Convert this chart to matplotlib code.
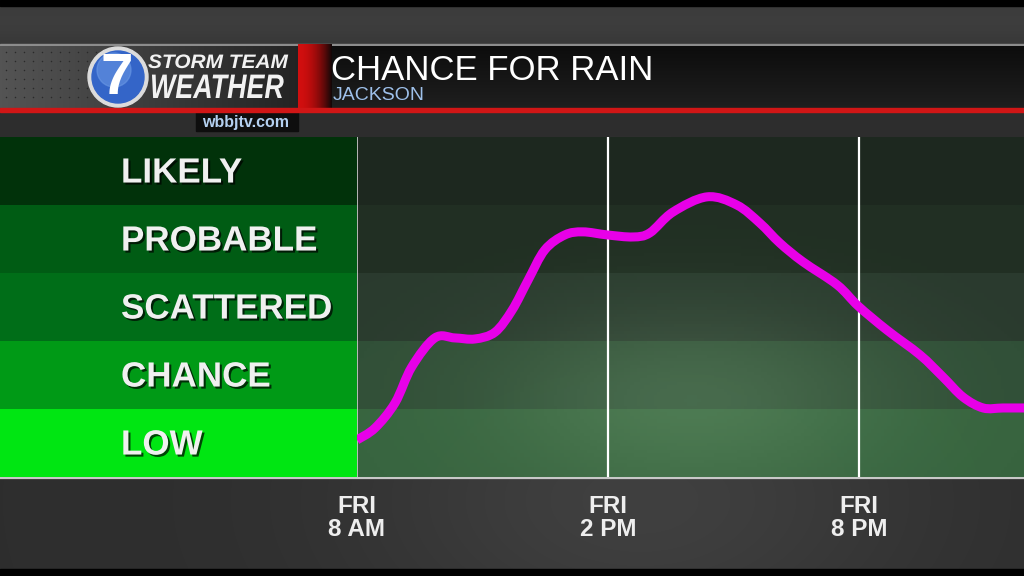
import numpy as np
import matplotlib.pyplot as plt
import matplotlib.patheffects as pe
from matplotlib.patches import Rectangle, Circle, PathPatch
from matplotlib.path import Path
from matplotlib.textpath import TextPath
from matplotlib.font_manager import FontProperties
from matplotlib.transforms import Affine2D

# rain chance levels (bottom to top) and their left-panel colours
levels = ['LOW', 'CHANCE', 'SCATTERED', 'PROBABLE', 'LIKELY']
level_colors = ['#00e612', '#009a16', '#006e18', '#005c14', '#01320a']
chart_band_colors = ['#386840', '#315238', '#2a3c2e', '#203023', '#1c281e']

# hours after Fri 8 AM and chance (% of chart height, 20 per level)
hours = [0.0, 0.43, 0.91, 1.31, 1.86, 2.34, 2.82, 3.30, 3.71, 4.09, 4.49,
         4.97, 5.40, 5.98, 6.60, 7.00, 7.55, 8.37, 9.08, 9.63, 10.11, 10.66,
         11.48, 11.98, 12.67, 13.46, 14.01, 14.49, 14.97, 15.44, 15.95]
chance = [10.9, 14.4, 21.8, 32.4, 40.9, 40.9, 40.6, 42.6, 49.1, 57.9, 66.8,
          71.2, 72.1, 71.2, 70.6, 71.8, 77.9, 82.4, 80.0, 74.7, 68.8, 63.3,
          56.5, 50.3, 43.2, 35.9, 29.4, 23.5, 20.3, 20.3, 20.3]
tick_hours = [0, 6, 12]
tick_labels = ['FRI\n8 AM', 'FRI\n2 PM', 'FRI\n8 PM']

W, H = 1024, 576
fig = plt.figure(figsize=(10.24, 5.76), dpi=100)
fig.patch.set_facecolor('black')

# ---- background (pixel coordinates) ----
bg = fig.add_axes([0, 0, 1, 1])
bg.set_xlim(0, W)
bg.set_ylim(H, 0)
bg.axis('off')
yy, xx = np.mgrid[0:H, 0:W]
gray = 0.18 + 0.07 * np.exp(-((xx - 640) ** 2 / 280 ** 2 + (yy - 500) ** 2 / 160 ** 2))
gray += 0.06 * np.exp(-(yy - 20) ** 2 / 35 ** 2)
bg.imshow(np.dstack([gray] * 3), extent=(0, W, H, 0), zorder=0)
bg.add_patch(Rectangle((0, 0), W, 6, color='black', zorder=1))
bg.add_patch(Rectangle((0, 569), W, 7, color='black', zorder=1))

# header bar
bg.add_patch(Rectangle((0, 44), W, 2.5, color='#8c8c8c', zorder=2))
logo_grad = np.linspace(0.33, 0.14, 200).reshape(1, -1)
bg.imshow(np.dstack([logo_grad] * 3), extent=(0, 298, 108, 46), aspect='auto', zorder=2)
dx, dy = np.meshgrid(np.arange(6, 110, 9), np.arange(52, 106, 9))
bg.scatter(dx.ravel(), dy.ravel(), s=1.2, color='#2a2a2a', zorder=3, linewidths=0)
title_grad = np.linspace(0.05, 0.12, 50).reshape(-1, 1)
bg.imshow(np.dstack([title_grad] * 3), extent=(330, W, 108, 46), aspect='auto', zorder=2)
red = np.linspace(0, 1, 60)
red_rgb = np.dstack([0.82 - 0.75 * red ** 2, 0.06 - 0.03 * red, 0.06 - 0.03 * red])
bg.imshow(red_rgb, extent=(298, 332, 112, 44), aspect='auto', zorder=3)
bg.add_patch(Rectangle((0, 107.5), W, 4.5, color='#d01616', zorder=4))
bg.add_patch(Rectangle((196, 112), 102, 19, color='#0e0e0e', zorder=2))

# logo
bg.add_patch(Circle((118, 77), 30, color='#dcdcdc', zorder=4))
bg.add_patch(Circle((118, 77), 26, color='#3465c8', zorder=5))
bg.add_patch(Circle((114, 70), 17, color='#6d9be6', alpha=0.55, zorder=5))
bg.text(117, 79, '7', fontsize=42, fontweight='bold', color='white', ha='center',
        va='center', family='Liberation Sans', zorder=6)

logo_font = FontProperties(family='Liberation Sans', weight='bold', style='italic')
for word, size, sx, x0, base in [('STORM TEAM', 19.5, 1.07, 148, 68),
                                 ('WEATHER', 34, 0.79, 150, 98)]:
    tp = TextPath((0, 0), word, size=size, prop=logo_font)
    tp = Affine2D().scale(sx, -1).translate(x0, base).transform_path(tp)
    bg.add_patch(PathPatch(tp, facecolor='#f2f2f2', lw=0, zorder=6))

bg.text(246, 122, 'wbbjtv.com', fontsize=11.5, fontweight='bold', color='#b4d0f0',
        ha='center', va='center', family='Liberation Sans', zorder=6)

# title
bg.text(331, 70, 'CHANCE FOR RAIN', fontsize=25, color='white', va='center',
        family='Liberation Sans', zorder=6)
bg.text(333, 95, 'JACKSON', fontsize=14, color='#9ec0ea', va='center',
        family='Liberation Sans', zorder=6)

# baseline
bg.plot([0, W], [478, 478], color='#c8c8c8', lw=1.6, zorder=3)

shadow = [pe.withSimplePatchShadow(offset=(1.5, -1.5), shadow_rgbFace='black', alpha=0.7)]

# ---- left label panel ----
lab = fig.add_axes([0, 99 / H, 357 / W, 340 / H])
lab.set_xlim(0, 1)
lab.set_ylim(0, 100)
lab.axis('off')
for i, (name, c) in enumerate(zip(levels, level_colors)):
    lab.barh(i * 20 + 10, 1, height=20, color=c, zorder=1)
    lab.text(121 / 357, i * 20 + 9.4, name, fontsize=25.2, fontweight='bold',
             color='#f0f0f0', va='center', family='Liberation Sans',
             path_effects=shadow, zorder=2)

# ---- chart ----
xmax = 667 / 41.83
ax = fig.add_axes([357 / W, 99 / H, 667 / W, 340 / H])
ax.set_facecolor('none')
for i, c in enumerate(chart_band_colors):
    ax.axhspan(i * 20, i * 20 + 20, color=c, alpha=0.93, lw=0, zorder=0)

gy, gx = np.mgrid[0:100, 0:200]
glow = np.exp(-(((gx - 100) / 60) ** 2 + ((gy - 22) / 28) ** 2))
glow_rgba = np.zeros((100, 200, 4))
glow_rgba[..., :3] = [0.6, 0.8, 0.6]
glow_rgba[..., 3] = 0.22 * glow
ax.imshow(glow_rgba, extent=(0, xmax, 0, 100), origin='lower', aspect='auto', zorder=1)
ax.set_xlim(0, xmax)
ax.set_ylim(0, 100)

ax.axvline(0, color='#d0d0d0', lw=1.2, zorder=2)
for h in tick_hours[1:]:
    ax.axvline(h, color='white', lw=1.6, zorder=2)

# smooth curve through the read points (Catmull-Rom as cubic Bezier segments)
p = np.column_stack([hours, chance])
ext = np.vstack([p[0], p, p[-1]])
verts = [tuple(p[0])]
codes = [Path.MOVETO]
for i in range(len(p) - 1):
    a, b, c, d = ext[i], ext[i + 1], ext[i + 2], ext[i + 3]
    verts += [tuple(b + (c - a) / 6), tuple(c - (d - b) / 6), tuple(c)]
    codes += [Path.CURVE4] * 3
ax.add_patch(PathPatch(Path(verts, codes), fill=False, edgecolor='#e800e8', lw=6.5,
                       joinstyle='round', capstyle='butt', zorder=3))

ax.set_xticks(tick_hours)
ax.set_xticklabels(tick_labels, fontsize=17.5, fontweight='bold', color='#eeeeee',
                   family='Liberation Sans', linespacing=1.0)
ax.tick_params(axis='x', length=0, pad=13)
ax.set_yticks([])
for s in ax.spines.values():
    s.set_visible(False)

fig.savefig('out.png', dpi=100, facecolor='black')
